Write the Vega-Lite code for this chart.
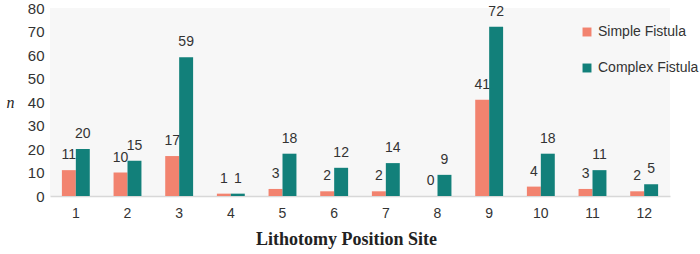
{
  "$schema": "https://vega.github.io/schema/vega-lite/v6.json",
  "width": 620,
  "height": 188,
  "autosize": {"type": "none"},
  "padding": {"left": 50, "top": 8, "right": 30, "bottom": 58},
  "background": "white",
  "config": {
    "view": {"fill": "#f7f7f7", "stroke": null},
    "font": "Liberation Sans"
  },
  "data": {
    "values": [
      {"site": 1, "type": "Simple Fistula", "n": 11},
      {"site": 1, "type": "Complex Fistula", "n": 20},
      {"site": 2, "type": "Simple Fistula", "n": 10},
      {"site": 2, "type": "Complex Fistula", "n": 15},
      {"site": 3, "type": "Simple Fistula", "n": 17},
      {"site": 3, "type": "Complex Fistula", "n": 59},
      {"site": 4, "type": "Simple Fistula", "n": 1},
      {"site": 4, "type": "Complex Fistula", "n": 1},
      {"site": 5, "type": "Simple Fistula", "n": 3},
      {"site": 5, "type": "Complex Fistula", "n": 18},
      {"site": 6, "type": "Simple Fistula", "n": 2},
      {"site": 6, "type": "Complex Fistula", "n": 12},
      {"site": 7, "type": "Simple Fistula", "n": 2},
      {"site": 7, "type": "Complex Fistula", "n": 14},
      {"site": 8, "type": "Simple Fistula", "n": 0},
      {"site": 8, "type": "Complex Fistula", "n": 9},
      {"site": 9, "type": "Simple Fistula", "n": 41},
      {"site": 9, "type": "Complex Fistula", "n": 72},
      {"site": 10, "type": "Simple Fistula", "n": 4},
      {"site": 10, "type": "Complex Fistula", "n": 18},
      {"site": 11, "type": "Simple Fistula", "n": 3},
      {"site": 11, "type": "Complex Fistula", "n": 11},
      {"site": 12, "type": "Simple Fistula", "n": 2},
      {"site": 12, "type": "Complex Fistula", "n": 5}
    ]
  },
  "encoding": {
    "x": {
      "field": "site", "type": "ordinal",
      "scale": {"paddingInner": 0.46, "paddingOuter": 0.23},
      "axis": {
        "title": "Lithotomy Position Site",
        "titleFont": "Liberation Serif", "titleFontWeight": "bold", "titleFontSize": 18,
        "titleColor": "#222", "titleX": 296, "titleY": 34,
        "labelAngle": 0, "labelFontSize": 14, "labelColor": "#333", "labelPadding": 10,
        "ticks": false, "domainColor": "#d8d8d8", "domainWidth": 1.5, "grid": false
      }
    },
    "xOffset": {"field": "type", "type": "nominal", "sort": ["Simple Fistula", "Complex Fistula"]},
    "y": {
      "field": "n", "type": "quantitative",
      "scale": {"domain": [0, 80]},
      "axis": {
        "title": "n", "titleFont": "Liberation Serif", "titleFontStyle": "italic", "titleFontWeight": "normal",
        "titleFontSize": 16, "titleAngle": 0, "titleX": -40, "titleY": 102, "titleColor": "#222",
        "values": [0, 10, 20, 30, 40, 50, 60, 70, 80],
        "labelFontSize": 15, "labelColor": "#333", "labelPadding": 6,
        "ticks": false, "domain": false, "grid": false
      }
    },
    "color": {
      "field": "type", "type": "nominal",
      "sort": ["Simple Fistula", "Complex Fistula"],
      "scale": {"domain": ["Simple Fistula", "Complex Fistula"], "range": ["#f2836f", "#12807a"]},
      "legend": {
        "title": null, "orient": "none", "legendX": 530, "legendY": 17,
        "symbolType": "square", "symbolSize": 80, "symbolOpacity": 1,
        "labelFontSize": 14, "labelColor": "#333", "rowPadding": 22, "labelOffset": 4
      }
    }
  },
  "layer": [
    {"mark": {"type": "bar"}},
    {
      "mark": {"type": "text", "baseline": "bottom", "dy": -8, "fontSize": 14, "color": "#333"},
      "encoding": {"text": {"field": "n", "type": "quantitative"}, "color": {"value": "#333"}}
    }
  ]
}
